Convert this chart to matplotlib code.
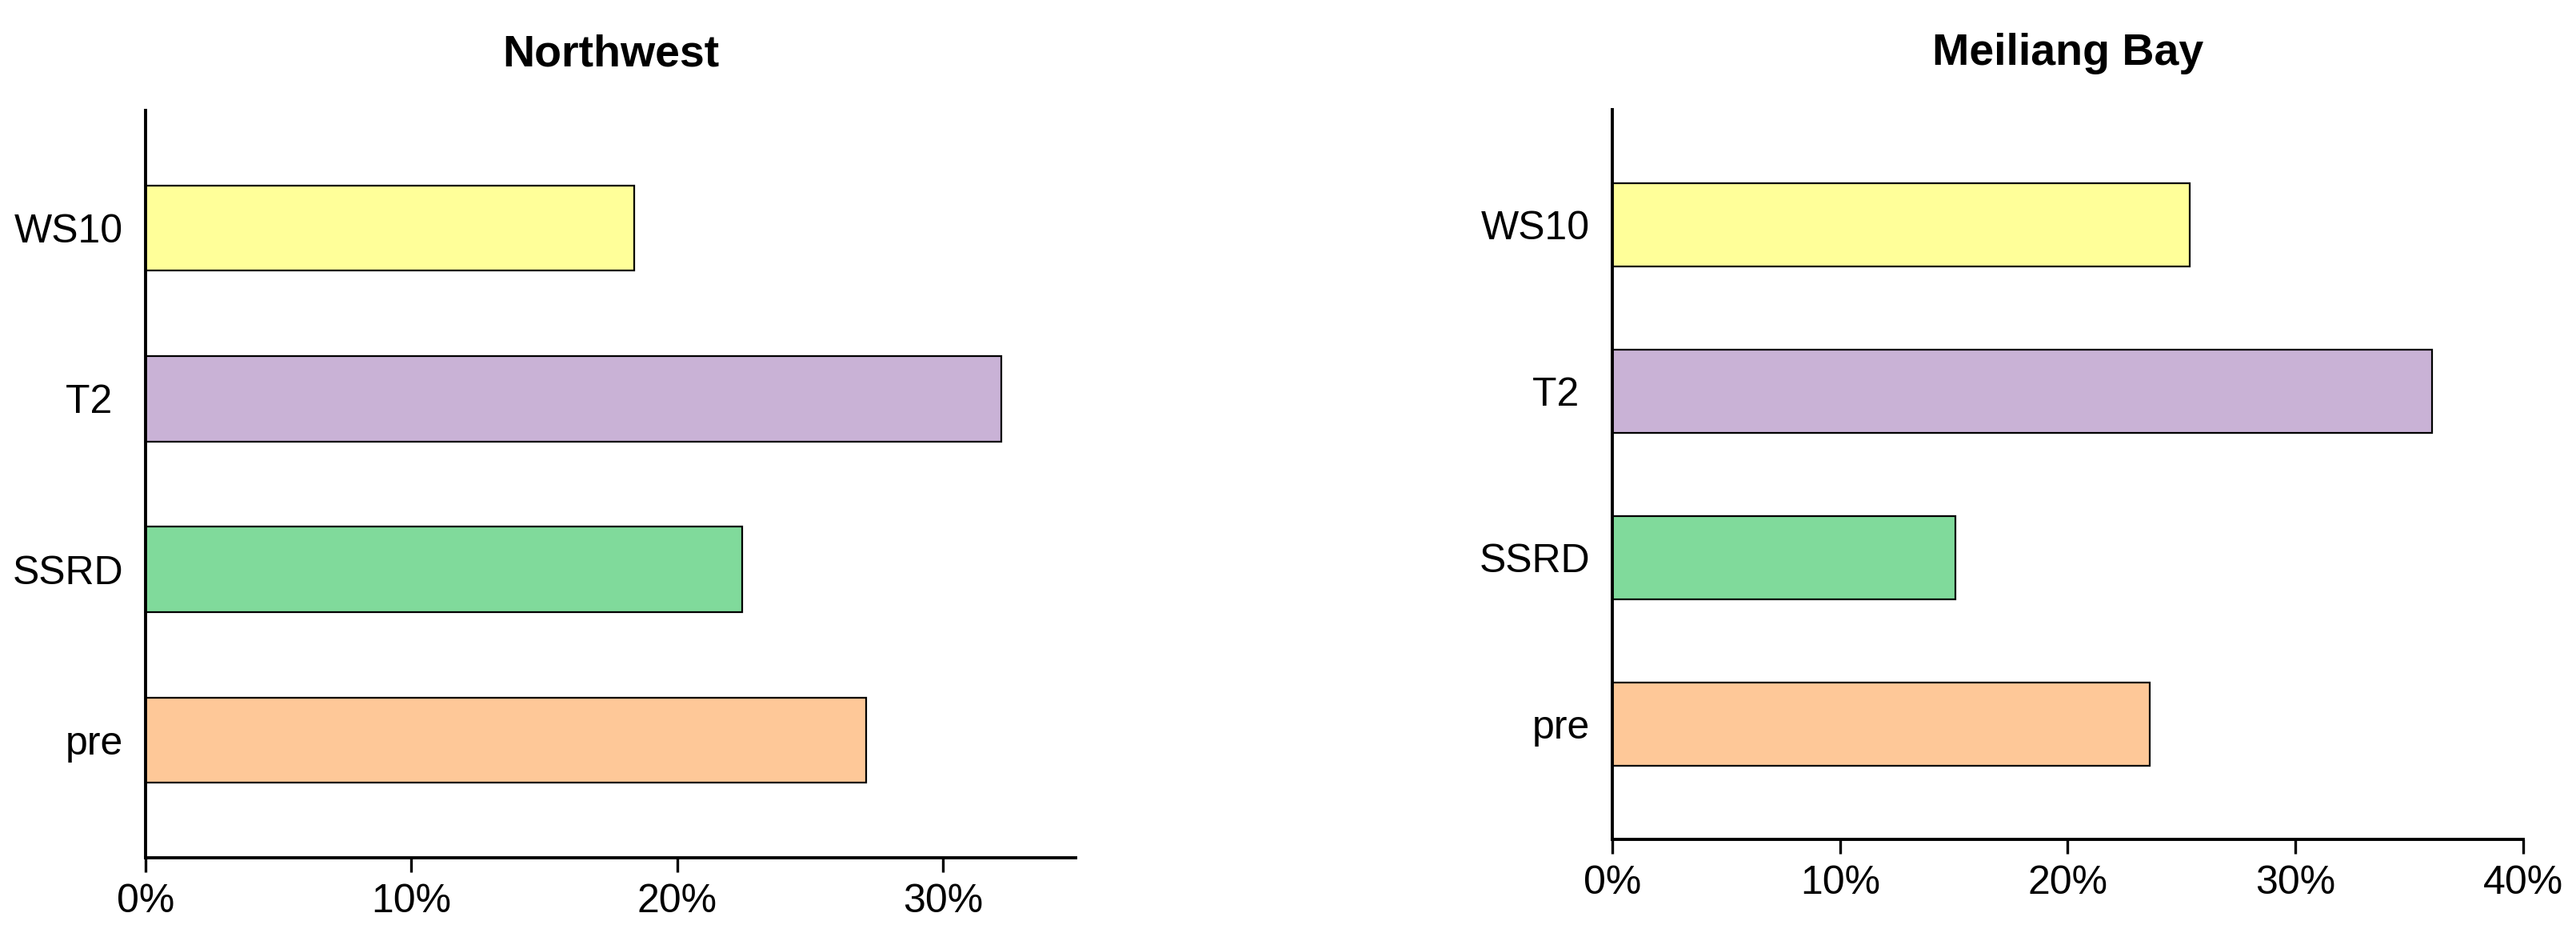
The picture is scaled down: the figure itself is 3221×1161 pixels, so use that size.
import matplotlib
matplotlib.use("Agg")
import matplotlib.pyplot as plt

plt.rcParams['font.family'] = ['Liberation Sans', 'DejaVu Sans']

# dados (de baixo para cima)
categorias = ["pre", "SSRD", "T2 ", "WS10"]
cores = ["#FEC898", "#80DA9B", "#C9B2D6", "#FFFF99"]

northwest = [27.1, 22.45, 32.2, 18.4]
meiliang = [23.6, 15.05, 36.0, 25.35]

paineis = [
    ("Northwest", northwest, 35, [0, 10, 20, 30]),
    ("Meiliang Bay", meiliang, 40, [0, 10, 20, 30, 40]),
]
posicoes = [
    [0.0565, 0.0767, 0.3611, 0.8044],
    [0.6259, 0.0965, 0.3536, 0.7855],
]

fig = plt.figure(figsize=(16.105, 5.805), dpi=200)

for (titulo, valores, xmax, ticks), pos in zip(paineis, posicoes):
    ax = fig.add_axes(pos)
    y = range(len(categorias))
    ax.barh(y, valores, height=0.5, color=cores, edgecolor="black", linewidth=0.8)

    ax.set_xlim(0, xmax)
    ax.set_ylim(-0.69, len(categorias) - 1 + 0.69)
    ax.set_xticks(ticks)
    ax.set_xticklabels([f"{t}%" for t in ticks])
    ax.set_yticks(list(y))
    ax.set_yticklabels(categorias)

    for lado in ["top", "right"]:
        ax.spines[lado].set_visible(False)
    for lado in ["left", "bottom"]:
        ax.spines[lado].set_linewidth(1.4)

    ax.tick_params(axis="x", length=6.5, width=1.2, pad=5, labelsize=18)
    ax.tick_params(axis="y", length=0, pad=10, labelsize=18)

    ax.set_title(titulo, fontsize=20, fontweight="bold", pad=20)

fig.savefig("out.png", dpi=200)
